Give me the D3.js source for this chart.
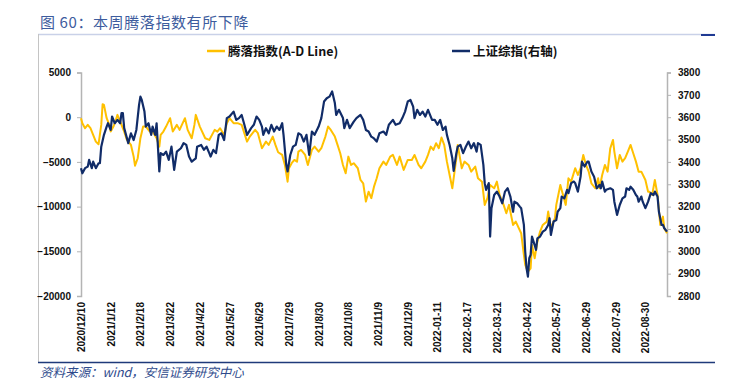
<!DOCTYPE html>
<html><head><meta charset="utf-8">
<script src="https://cdn.jsdelivr.net/npm/d3@7"></script>
<style>
html,body{margin:0;padding:0;background:#fff;}
svg{display:block;}
</style></head>
<body>
<svg id="chart" width="733" height="381"></svg>
<script>
// ---- data (x = trading-day index from 2020/12/10) ----
const titleText = "图 60：本周腾落指数有所下降";
const sourceText = "资料来源：wind，安信证券研究中心";
const seriesNames = ["腾落指数(A-D Line)", "上证综指(右轴)"];
const xTickLabels = ["2020/12/10","2021/1/12","2021/2/18","2021/3/22","2021/4/22","2021/5/27","2021/6/29","2021/7/29","2021/8/30","2021/10/8","2021/11/9","2021/12/9","2022-01-11","2022-02-17","2022-03-21","2022-04-22","2022-05-27","2022-06-29","2022-07-29","2022-08-30"];
const xTickDays = [0,22,44,66,88,110,132,154,176,198,220,242,264,286,308,330,352,374,396,418];
const lastDay = 434;
const leftTicks = [5000,0,-5000,-10000,-15000,-20000];
const rightTicks = [3800,3700,3600,3500,3400,3300,3200,3100,3000,2900,2800];

const adSeries = [[0,-110],[1,-670],[3,-1230],[5,-860],[7,-1230],[9,-1980],[11,-2730],[13,-3020],[15,-860],[16,1450],[17,1380],[19,-110],[21,-860],[22,-1610],[24,-1050],[25,-670],[27,260],[30,-860],[32,-1610],[34,-2540],[37,-3100],[39,-4410],[40,-5420],[42,-4590],[44,-2350],[46,-1050],[48,-1050],[51,-1610],[53,-1610],[56,-2350],[58,-3290],[59,-1980],[61,-1610],[63,-1050],[66,-110],[68,-1610],[71,-860],[73,-1420],[77,-110],[79,-1420],[82,-2350],[84,-860],[85,260],[88,-1050],[92,-2350],[95,-2540],[99,-1420],[101,-1610],[103,-1230],[106,-1980],[108,-670],[110,-110],[113,-670],[116,-670],[119,-860],[123,-2730],[125,-2170],[129,-1420],[131,-1790],[134,-3470],[137,-2730],[139,-3100],[142,-2170],[144,-3100],[146,-3920],[149,-4220],[151,-5340],[153,-7210],[154,-5710],[156,-5150],[158,-4780],[160,-4970],[161,-3850],[163,-3660],[166,-4220],[168,-5340],[170,-4220],[171,-3660],[173,-3290],[176,-3850],[178,-3470],[181,-2170],[183,-1050],[185,-1420],[188,-2170],[190,-3100],[192,-4030],[194,-5340],[196,-6270],[198,-4410],[200,-5340],[202,-5150],[205,-5710],[207,-7020],[209,-7390],[211,-9440],[213,-8330],[215,-9060],[217,-7770],[219,-6830],[221,-5710],[224,-4970],[226,-5340],[229,-4410],[231,-4220],[234,-5340],[236,-4410],[239,-5900],[242,-4780],[245,-4780],[247,-4220],[250,-5340],[252,-5710],[255,-4970],[257,-4220],[259,-3290],[261,-3660],[263,-2910],[265,-3470],[267,-2280],[269,-3100],[271,-4970],[273,-6460],[275,-7950],[278,-4590],[279,-3100],[282,-5710],[284,-4970],[287,-5340],[289,-6090],[292,-5530],[294,-6830],[297,-7210],[299,-9810],[301,-9060],[303,-7580],[306,-7950],[308,-7210],[310,-8690],[313,-9810],[315,-10740],[317,-9810],[320,-12050],[322,-11680],[326,-12980],[328,-15410],[329,-16530],[331,-17280],[333,-16900],[334,-14290],[336,-15780],[338,-13920],[340,-12800],[342,-12050],[345,-11680],[346,-10560],[348,-12420],[351,-11300],[352,-9810],[355,-7580],[357,-8690],[359,-9810],[361,-6830],[363,-7210],[366,-5710],[368,-6460],[370,-5710],[372,-4220],[374,-5340],[376,-6090],[378,-7390],[381,-7950],[383,-6830],[384,-7950],[386,-6460],[388,-5340],[390,-6090],[392,-3470],[394,-2540],[395,-3850],[397,-5710],[399,-4220],[401,-4970],[403,-4590],[405,-3850],[407,-3100],[409,-4030],[411,-4970],[413,-6090],[415,-6090],[418,-7020],[420,-8330],[421,-8330],[423,-8690],[425,-7020],[427,-8690],[429,-12050],[431,-11120],[432,-12420],[434,-12980]];

const shSeries = [[0,3372],[1,3349],[3,3372],[5,3379],[6,3409],[8,3372],[9,3401],[11,3372],[13,3394],[14,3394],[15,3468],[17,3521],[19,3558],[20,3573],[22,3543],[23,3603],[25,3573],[27,3588],[29,3573],[30,3618],[31,3618],[32,3551],[35,3484],[37,3528],[39,3498],[41,3543],[43,3655],[44,3692],[45,3677],[47,3625],[48,3558],[50,3573],[52,3521],[53,3558],[55,3521],[56,3573],[58,3357],[59,3439],[61,3431],[63,3446],[65,3409],[67,3468],[69,3364],[71,3446],[74,3461],[76,3484],[78,3476],[80,3424],[82,3401],[85,3416],[86,3468],[89,3476],[91,3454],[93,3468],[95,3439],[96,3424],[98,3454],[100,3439],[102,3521],[104,3528],[106,3498],[108,3596],[110,3603],[113,3625],[115,3588],[117,3596],[119,3610],[121,3566],[123,3521],[126,3551],[128,3566],[130,3603],[132,3588],[134,3558],[135,3521],[137,3551],[139,3528],[141,3566],[143,3536],[145,3558],[147,3543],[149,3573],[150,3521],[152,3387],[153,3357],[155,3431],[157,3468],[159,3476],[161,3528],[163,3521],[165,3491],[167,3521],[169,3431],[171,3536],[173,3521],[176,3558],[178,3596],[180,3670],[182,3685],[184,3692],[186,3715],[188,3663],[189,3610],[191,3633],[194,3596],[195,3551],[197,3588],[199,3551],[202,3580],[204,3596],[207,3610],[209,3588],[211,3543],[213,3536],[215,3513],[217,3505],[219,3491],[221,3528],[224,3536],[226,3521],[228,3566],[231,3588],[233,3566],[236,3573],[238,3596],[240,3625],[242,3670],[244,3677],[246,3647],[247,3596],[249,3633],[251,3610],[253,3625],[255,3603],[257,3633],[260,3588],[262,3588],[264,3566],[266,3588],[268,3543],[270,3558],[271,3521],[273,3476],[275,3416],[276,3360],[278,3439],[279,3468],[281,3476],[283,3439],[285,3468],[287,3491],[289,3461],[291,3484],[293,3446],[294,3484],[296,3476],[298,3387],[299,3305],[300,3275],[302,3305],[303,3066],[304,3193],[306,3252],[308,3267],[310,3245],[312,3215],[314,3267],[316,3282],[318,3245],[320,3177],[321,3222],[323,3215],[325,3200],[326,3193],[328,3118],[329,2998],[330,2924],[331,2887],[332,2969],[333,2984],[334,3066],[336,3028],[337,3006],[338,3058],[340,3066],[342,3088],[344,3096],[346,3118],[347,3148],[348,3073],[350,3133],[352,3140],[353,3177],[355,3193],[356,3245],[358,3237],[360,3275],[361,3260],[363,3305],[365,3312],[366,3305],[368,3267],[370,3334],[371,3401],[373,3379],[375,3401],[376,3401],[378,3357],[380,3334],[382,3282],[384,3297],[385,3282],[386,3312],[388,3267],[389,3275],[392,3282],[394,3275],[395,3222],[397,3163],[399,3207],[401,3237],[403,3245],[404,3282],[406,3275],[407,3289],[409,3275],[411,3252],[412,3245],[413,3222],[415,3245],[416,3222],[418,3193],[420,3222],[422,3260],[424,3252],[425,3267],[427,3245],[428,3177],[430,3118],[431,3118],[432,3103],[434,3088]];

// ---- drawing ----
const svg = d3.select("#chart");
const plot = {left: 81, right: 667, top: 72.5, bottom: 296};
const cjk = "'Noto Sans CJK SC','Noto Sans',sans-serif";
const num = "'Liberation Sans',Arial,sans-serif";
const colAD = "#FFC000", colSH = "#112C68", axisCol = "#b4b4b4";

const x = d3.scaleLinear().domain([0, lastDay]).range([plot.left, plot.right]);
const yL = d3.scaleLinear().domain([-20000, 5000]).range([plot.bottom, plot.top]);
const yR = d3.scaleLinear().domain([2800, 3800]).range([plot.bottom, plot.top]);

// frame
svg.append("line").attr("x1",38).attr("x2",715).attr("y1",34.5).attr("y2",34.5).attr("stroke","#c9d1e8").attr("stroke-width",1.5);
svg.append("line").attr("x1",701).attr("x2",715).attr("y1",35).attr("y2",35).attr("stroke","#1f3a93").attr("stroke-width",2);
svg.append("line").attr("x1",38.5).attr("x2",38.5).attr("y1",34).attr("y2",362).attr("stroke","#c4c4c4").attr("stroke-width",1);
svg.append("line").attr("x1",38).attr("x2",715).attr("y1",362.5).attr("y2",362.5).attr("stroke","#1f3a7a").attr("stroke-width",1.5);

// title & source
svg.append("text").attr("x",40).attr("y",28).text(titleText)
  .attr("font-family",cjk).attr("font-size",15).attr("fill","#3d5c9e").attr("letter-spacing",0.6);
svg.append("text").attr("x",40).attr("y",376.5).text(sourceText)
  .attr("font-family",cjk).attr("font-size",12.5).attr("font-style","italic").attr("fill","#2e4a8c");

// axes
const gL = svg.append("g").attr("transform",`translate(${plot.left},0)`)
  .call(d3.axisLeft(yL).tickValues(leftTicks).tickSize(4).tickPadding(6).tickFormat(d3.format("d")));
const gR = svg.append("g").attr("transform",`translate(${plot.right},0)`)
  .call(d3.axisRight(yR).tickValues(rightTicks).tickSize(4).tickPadding(7).tickFormat(d3.format("d")));
[gL,gR].forEach(g=>{
  g.attr("font-family",num);
  g.select(".domain").attr("stroke",axisCol).attr("stroke-width",1.5);
  g.selectAll(".tick line").attr("stroke",axisCol);
  g.selectAll("text").attr("font-family",num).attr("font-size",10).attr("font-weight","bold").attr("fill","#111");
});

const gX = svg.append("g").attr("transform",`translate(0,${plot.bottom})`)
  .call(d3.axisBottom(x).tickValues(xTickDays).tickSize(0).tickFormat((d,i)=>xTickLabels[i]));
gX.attr("font-family",num);
gX.select(".domain").remove();
gX.selectAll("text")
  .attr("font-family",num).attr("font-size",10).attr("font-weight","bold").attr("fill","#111")
  .attr("transform","rotate(-90)").attr("text-anchor","end")
  .attr("x",-6).attr("y",0).attr("dy","0.35em");

// lines
const lineAD = d3.line().x(d=>x(d[0])).y(d=>yL(d[1]));
const lineSH = d3.line().x(d=>x(d[0])).y(d=>yR(d[1]));
svg.append("path").datum(adSeries).attr("d",lineAD).attr("fill","none").attr("stroke",colAD).attr("stroke-width",2).attr("stroke-linejoin","round");
svg.append("path").datum(shSeries).attr("d",lineSH).attr("fill","none").attr("stroke",colSH).attr("stroke-width",2.2).attr("stroke-linejoin","round");

// legend
const leg = [{x:207, c:colAD, t:seriesNames[0]}, {x:452, c:colSH, t:seriesNames[1]}];
leg.forEach(l=>{
  svg.append("line").attr("x1",l.x).attr("x2",l.x+18).attr("y1",51).attr("y2",51).attr("stroke",l.c).attr("stroke-width",2.5);
  svg.append("text").attr("x",l.x+21).attr("y",55.5).text(l.t)
    .attr("font-family",cjk).attr("font-size",12.5).attr("font-weight","bold").attr("fill","#111");
});
</script>
</body></html>
